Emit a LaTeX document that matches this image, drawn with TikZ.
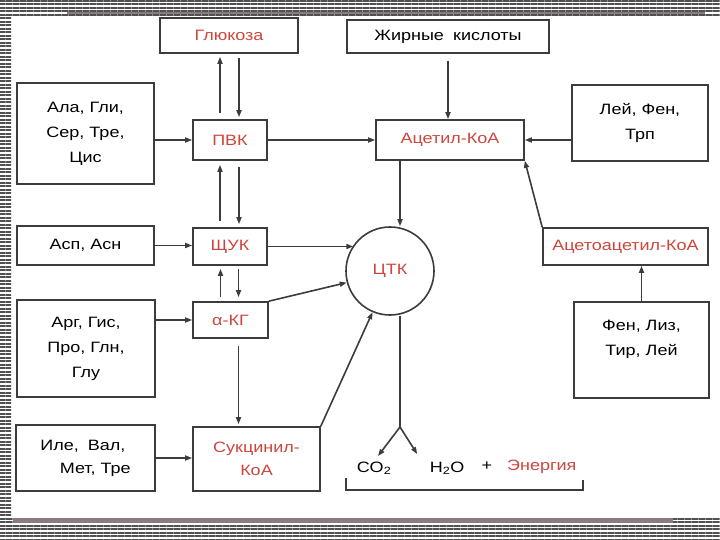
\documentclass[tikz,border=0pt]{standalone}
\usepackage{fontspec}
\setmainfont[FakeStretch=1.2]{Liberation Sans}
\usepackage{tikz}
\usetikzlibrary{arrows.meta,calc,patterns.meta}

\definecolor{lgray}{RGB}{60,60,60}
\definecolor{kred}{RGB}{205,70,60}
\definecolor{stripe}{RGB}{80,80,80}
\definecolor{rose}{RGB}{140,122,126}

\begin{document}
\begin{tikzpicture}[x=1pt,y=-1pt,
    box/.style={draw=lgray, line width=1.6pt, align=center, inner sep=2pt,
        font=\fontsize{15}{25}\selectfont},
    met/.style={box, text=kred},
    plain/.style={font=\fontsize{15}{25}\selectfont},
    arr/.style={lgray, line width=1.6pt, -{Triangle[length=7pt,width=5pt]}},
    band/.style={pattern={Lines[angle=0,distance=3.5pt,line width=2pt]}, pattern color=stripe}]
    \useasboundingbox (0,0) rectangle (720,540);

    % frame
    \fill[band] (0,0) rectangle (720,16);
    \fill[band] (0,16) rectangle (11,518);
    \fill[band] (0,516) rectangle (720,540);
    \draw[rose, line width=2.5pt] (67,13) -- (705,13);
    \draw[rose, line width=5pt] (13,520) -- (673,520);

    % boxes
    \node[met, minimum width=138pt, minimum height=35pt] (gluc) at (229,35.5) {Глюкоза};
    \node[box, minimum width=202pt, minimum height=33pt] (fatty) at (448,36.5) {Жирные\; кислоты};
    \node[box, minimum width=137pt, minimum height=101pt] (ala) at (85.5,133.5) {Ала, Гли,\\Сер, Тре,\\Цис};
    \node[met, minimum width=74pt, minimum height=40pt] (pvk) at (230,140) {ПВК};
    \node[met, minimum width=148pt, minimum height=40pt] (acoa) at (450,140) {Ацетил-КоА};
    \node[box, minimum width=136pt, minimum height=76pt] (lei) at (640,123) {Лей, Фен,\\Трп};
    \node[box, minimum width=137pt, minimum height=39pt] (asp) at (85.5,245.5) {Асп, Асн};
    \node[met, minimum width=74pt, minimum height=37pt] (shchuk) at (230,246.5) {ЩУК};
    \node[draw=lgray, line width=1.6pt, circle, minimum size=88pt, text=kred,
        font=\fontsize{15}{25}\selectfont] (tca) at (390,271) {ЦТК};
    \node[met, minimum width=165pt, minimum height=37pt] (acac) at (625.5,246.5) {Ацетоацетил-КоА};
    \node[box, minimum width=138pt, minimum height=97pt] (arg) at (86,348.5) {Арг, Гис,\\Про, Глн,\\Глу};
    \node[met, minimum width=75pt, minimum height=36pt] (akg) at (230.5,320) {α-КГ};
    \node[box, minimum width=135pt, minimum height=96pt] (fen) at (641.5,350) {Фен, Лиз,\\Тир, Лей\\\mbox{}};
    \node[box, minimum width=139pt, minimum height=66pt, align=left] (ile) at (85.5,458) {Иле,\; Вал,\\[-2pt]\hspace*{1.3em}Мет, Тре};
    \node[met, minimum width=127pt, minimum height=64pt] (succ) at (256.5,459) {Сукцинил-\\[-2pt]КоА};

    % products
    \node[plain] (co2) at (374,468) {CO\textsubscript{2}};
    \node[plain] (h2o) at (447,468) {H\textsubscript{2}O};
    \node[plain] (energy) at (529,467) {+\hspace{15pt}\textcolor{kred}{Энергия}};
    \coordinate (split) at (400,427);

    % arrows
    \draw[arr, shorten <=6pt, shorten >=3pt] ([xshift=-10pt]pvk.north) -- ([xshift=-10pt]pvk.north |- gluc.south);
    \draw[arr, shorten <=4pt, shorten >=2pt] ([xshift=9pt]pvk.north |- gluc.south) -- ([xshift=9pt]pvk.north);
    \draw[arr, shorten <=6pt, shorten >=4pt] ([xshift=-10pt]shchuk.north) -- ([xshift=-10pt]shchuk.north |- pvk.south);
    \draw[arr, shorten <=6pt, shorten >=3pt] ([xshift=9pt]shchuk.north |- pvk.south) -- ([xshift=9pt]shchuk.north);
    \draw[arr, shorten <=4pt, shorten >=3pt] ([xshift=-10pt]akg.north) -- ([xshift=-10pt]akg.north |- shchuk.south);
    \draw[arr, shorten <=3pt, shorten >=4pt] ([xshift=8pt]akg.north |- shchuk.south) -- ([xshift=8pt]akg.north);
    \draw[arr, shorten <=7pt, shorten >=2pt] ([xshift=8pt]akg.south) -- ([xshift=8pt]akg.south |- succ.north);

    \draw[arr] (ala.east |- pvk) -- (pvk.west);
    \draw[arr] (asp.east) -- (asp.east -| shchuk.west);
    \draw[arr] (arg.east |- akg) -- (akg.west);
    \draw[arr] (ile.east) -- (ile.east -| succ.west);

    \draw[arr] (pvk.east) -- (acoa.west);
    \draw[arr, shorten <=7pt] (fatty.south) -- (fatty.south |- acoa.north);
    \draw[arr] (lei.west |- acoa) -- (acoa.east);
    \draw[arr] (acac.north west) -- (acoa.south east);
    \draw[arr] (fen.north) -- (fen.north |- acac.south);

    \draw[arr] (acoa.south -| split) -- (tca.north -| split);
    \draw[arr] (shchuk.east) -- (shchuk.east -| tca.145);
    \draw[arr] (akg.north east) -- (tca.195);
    \draw[arr] (succ.north east) -- (tca.247);

    \draw[lgray, line width=1.6pt] (tca.south -| split) -- (split);
    \draw[arr] (split) -- ([xshift=4pt,yshift=2pt]co2.north);
    \draw[arr] (split) -- ([xshift=-9pt,yshift=4pt]h2o.north west);

    % bracket
    \draw[lgray, line width=1.2pt] (346,478) -- (346,490) -- (583,490) -- (583,480);
\end{tikzpicture}
\end{document}
